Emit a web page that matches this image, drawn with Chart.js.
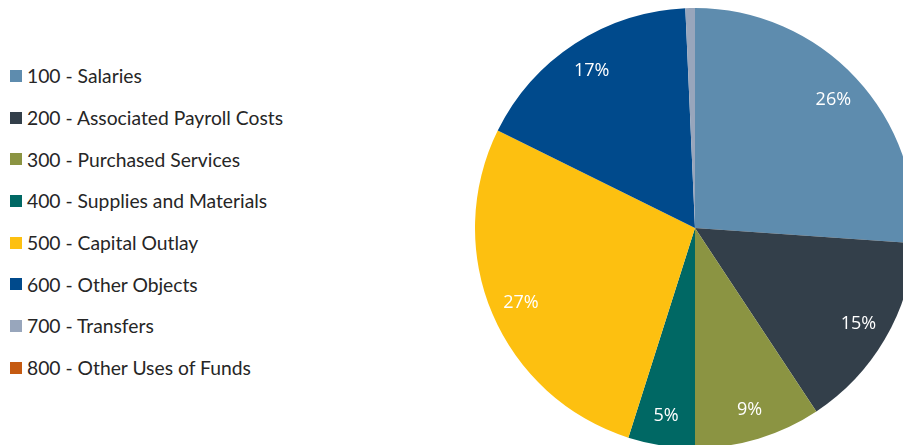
<!DOCTYPE html>
<html>
<head>
<meta charset="utf-8">
<script src="https://cdn.jsdelivr.net/npm/chart.js@4"></script>
<style>
    html, body {
        margin: 0;
        padding: 0;
        background: #ffffff;
        width: 903px;
        height: 445px;
        overflow: hidden;
        position: relative;
    }
    #legend {
        position: absolute;
        left: 10px;
        top: 55px;
        font-family: "Lato", sans-serif;
        font-size: 19.3px;
        color: #262626;
    }
    .legend-item {
        height: 41.7px;
        display: flex;
        align-items: center;
        white-space: nowrap;
    }
    .legend-box {
        width: 12px;
        height: 12px;
        margin-right: 5px;
    }
    #pie {
        position: absolute;
        left: 475px;
        top: 8px;
    }
</style>
</head>
<body>
<div id="legend"></div>
<canvas id="pie" width="440" height="440"></canvas>
<script>
const categories = [
    "100 - Salaries",
    "200 - Associated Payroll Costs",
    "300 - Purchased Services",
    "400 - Supplies and Materials",
    "500 - Capital Outlay",
    "600 - Other Objects",
    "700 - Transfers",
    "800 - Other Uses of Funds"
];
// share of total expenditures, in percent
const shares = [26.1, 14.6, 9.3, 4.9, 27.4, 17.0, 0.7, 0.0];
const colors = ["#5e8cae", "#333f4a", "#8b9442", "#006864", "#fdc010", "#004a8c", "#98a6bc", "#c55a11"];

// legend on the left
const legendEl = document.getElementById("legend");
categories.forEach((name, idx) => {
    const item = document.createElement("div");
    item.className = "legend-item";
    const box = document.createElement("div");
    box.className = "legend-box";
    box.style.background = colors[idx];
    const text = document.createElement("span");
    text.textContent = name;
    item.appendChild(box);
    item.appendChild(text);
    legendEl.appendChild(item);
});

// percent labels inside the slices (tiny slices get none)
const sliceLabels = {
    id: "sliceLabels",
    afterDatasetsDraw(chart) {
        const ctx = chart.ctx;
        const data = chart.data.datasets[0].data;
        const total = data.reduce((a, b) => a + b, 0);
        const meta = chart.getDatasetMeta(0);
        ctx.save();
        ctx.font = '18px "Open Sans", sans-serif';
        ctx.fillStyle = "#ffffff";
        ctx.textAlign = "center";
        ctx.textBaseline = "middle";
        meta.data.forEach((arc, idx) => {
            const share = data[idx] / total * 100;
            if (share < 2) return;
            const p = arc.getProps(["x", "y", "startAngle", "endAngle", "outerRadius"], true);
            const mid = (p.startAngle + p.endAngle) / 2;
            const r = p.outerRadius * 0.86;
            ctx.fillText(Math.round(share) + "%", p.x + Math.cos(mid) * r, p.y + Math.sin(mid) * r + 1);
        });
        ctx.restore();
    }
};

new Chart(document.getElementById("pie"), {
    type: "pie",
    data: {
        labels: categories,
        datasets: [{
            data: shares,
            backgroundColor: colors,
            borderWidth: 0
        }]
    },
    options: {
        responsive: false,
        animation: false,
        layout: { padding: 0 },
        plugins: {
            legend: { display: false },
            tooltip: { enabled: false }
        }
    },
    plugins: [sliceLabels]
});
</script>
</body>
</html>
